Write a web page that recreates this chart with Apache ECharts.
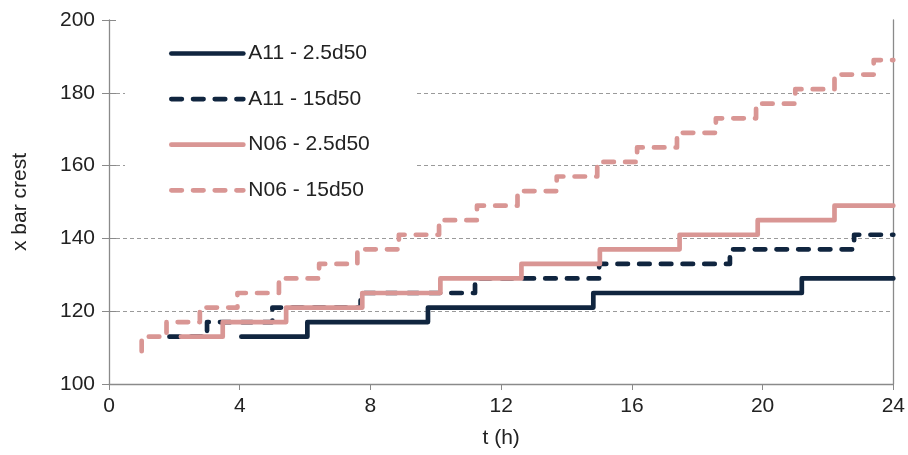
<!DOCTYPE html>
<html>
<head>
<meta charset="utf-8">
<script src="https://cdn.jsdelivr.net/npm/echarts@6/dist/echarts.min.js"></script>
<style>html,body{margin:0;padding:0;background:#fff}#c{width:908px;height:455px}</style>
</head>
<body>
<div id="c"></div>
<script>
var seriesNames = ['A11 - 2.5d50', 'A11 - 15d50', 'N06 - 2.5d50', 'N06 - 15d50'];
// [t (h), x bar crest] at each step change (value held until next change)
var A11_25 = [[4.05,113],[6.07,117],[9.76,121],[14.82,125],[21.2,129],[24,129]];
var A11_15 = [[1.85,113],[3.0,117],[5.0,121],[7.7,125],[11.2,129],[15.0,133],[19.0,137],[22.8,141],[24,141]];
var N06_25 = [[2.2,113],[3.48,117],[5.42,121],[7.75,125],[10.14,129],[12.62,133],[15.02,137],[17.46,141],[19.85,145],[22.2,149],[24,149]];
var N06_15 = [[1.0,109],[1.0,113],[1.76,117],[2.78,121],[3.93,125],[5.2,129],[6.43,133],[7.6,137],[8.87,141],[10.1,145],[11.26,149],[12.5,153],[13.7,157],[14.94,161],[16.16,165],[17.38,169],[18.57,173],[19.8,177],[21.0,181],[22.2,185],[23.4,189],[24,189]];
var xTicks = [0, 4, 8, 12, 16, 20, 24];
var yTicks = [100, 120, 140, 160, 180, 200];

var NAVY = '#10253f', PINK = '#d99694', AX = '#8a8a8a';
var FONT = 'Liberation Sans, Arial, sans-serif';
var chart = echarts.init(document.getElementById('c'), null, {renderer: 'canvas'});
function mk(name, data, color, dashed) {
  return {
    name: name, type: 'line', step: 'end', data: data, symbol: 'none', showSymbol: false,
    animation: false, xAxisIndex: 0, yAxisIndex: 0,
    lineStyle: {color: color, width: 4.7, type: dashed ? [10.5, 11.2] : 'solid', cap: 'round', join: 'round'},
    itemStyle: {color: color}
  };
}
chart.setOption({
  animation: false,
  grid: {left: 109, right: 12, top: 20, bottom: 71, containLabel: false},
  legend: {
    show: true, orient: 'vertical', left: 125, top: 29,
    padding: [14, 45, 18, 44], backgroundColor: '#ffffff',
    itemWidth: 72, itemHeight: 14, itemGap: 24.6,
    data: seriesNames,
    itemStyle: {color: 'transparent', borderColor: 'transparent', borderWidth: 0, opacity: 0},
    lineStyle: {width: 4.7, cap: 'round'},
    textStyle: {fontFamily: FONT, fontSize: 21, color: '#222'}
  },
  xAxis: [{
    type: 'value', min: xTicks[0], max: xTicks[xTicks.length - 1], interval: 4,
    name: 't (h)', nameLocation: 'middle', nameGap: 44,
    nameTextStyle: {fontFamily: FONT, fontSize: 21, color: '#222', verticalAlign: 'top'},
    axisLine: {show: true, lineStyle: {color: AX, width: 1.3}},
    axisTick: {show: true, length: 6, lineStyle: {color: AX}},
    axisLabel: {fontFamily: FONT, fontSize: 21, color: '#222', margin: 12},
    splitLine: {show: false}
  }],
  yAxis: [{
    type: 'value', min: yTicks[0], max: yTicks[yTicks.length - 1], interval: 20,
    name: 'x bar crest', nameLocation: 'middle', nameGap: 78, nameRotate: 90,
    nameTextStyle: {fontFamily: FONT, fontSize: 21, color: '#222'},
    axisLine: {show: true, lineStyle: {color: AX, width: 1.3}},
    axisTick: {show: true, length: 7, lineStyle: {color: AX}},
    axisLabel: {fontFamily: FONT, fontSize: 21, color: '#222', margin: 14},
    splitLine: {show: true, showMaxLine: false, showMinLine: false, lineStyle: {color: '#9a9a9a', width: 1, type: [4, 3]}}
  }, {
    type: 'value', position: 'left', min: yTicks[0], max: yTicks[yTicks.length - 1], interval: 20,
    axisLine: {show: false}, axisLabel: {show: false}, splitLine: {show: false},
    axisTick: {show: true, inside: true, length: 7, lineStyle: {color: AX}}
  }, {
    type: 'value', position: 'right', min: yTicks[0], max: yTicks[yTicks.length - 1], interval: 20,
    axisLine: {show: true, lineStyle: {color: AX, width: 1.3}}, axisLabel: {show: false},
    axisTick: {show: false}, splitLine: {show: false}
  }],
  series: [
    mk(seriesNames[0], A11_25, NAVY, false),
    mk(seriesNames[1], A11_15, NAVY, true),
    mk(seriesNames[2], N06_25, PINK, false),
    mk(seriesNames[3], N06_15, PINK, true)
  ]
});
</script>
</body>
</html>
